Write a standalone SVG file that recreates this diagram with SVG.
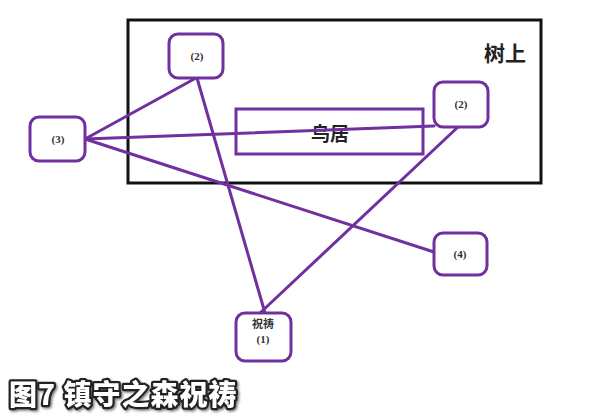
<svg xmlns="http://www.w3.org/2000/svg" width="593" height="417" viewBox="0 0 593 417">
<style>
.node{fill:#fff;stroke:#7030a0;stroke-width:3}
.lbl{font-family:"Liberation Serif","Noto Sans CJK SC",serif;font-weight:bold;font-size:11px;fill:#333;text-anchor:middle;dominant-baseline:central}
.con line{stroke:#7030a0;stroke-width:3;stroke-linecap:round}
.cjk{font-family:"Noto Sans CJK SC",sans-serif;text-anchor:middle;dominant-baseline:central;fill:#222}
</style>
<defs>
<filter id="sh" x="-5%" y="-20%" width="110%" height="150%">
<feDropShadow dx="1.5" dy="1.5" stdDeviation="1" flood-color="#000" flood-opacity="0.5"/>
</filter>
</defs>
<rect width="593" height="417" fill="#fff"/>
<g id="tree">
<rect x="128" y="20" width="413" height="163" fill="none" stroke="#111" stroke-width="3"/>
<text class="cjk" x="505" y="52" font-size="21" font-weight="bold">树上</text>
</g>
<g id="torii">
<rect x="236" y="109" width="187" height="45" fill="none" stroke="#7030a0" stroke-width="3"/>
<text class="cjk" x="330" y="132" font-size="19" font-weight="bold">鸟居</text>
</g>
<g class="con" id="connectors">
<line x1="85" y1="139" x2="196" y2="78"/>
<line x1="85" y1="139" x2="434" y2="126"/>
<line x1="85" y1="139" x2="434" y2="252"/>
<line x1="197" y1="78" x2="265" y2="313"/>
<line x1="458" y1="127" x2="260" y2="313"/>
</g>
<g id="n2a">
<rect class="node" x="169" y="34" width="54" height="44" rx="9"/>
<text class="lbl" x="197" y="56">(2)</text>
</g>
<g id="n2b">
<rect class="node" x="434" y="82" width="54" height="45" rx="9"/>
<text class="lbl" x="461" y="104">(2)</text>
</g>
<g id="n3">
<rect class="node" x="30" y="117" width="55" height="44" rx="9"/>
<text class="lbl" x="58" y="139">(3)</text>
</g>
<g id="n4">
<rect class="node" x="434" y="233" width="53" height="42" rx="9"/>
<text class="lbl" x="460" y="254">(4)</text>
</g>
<g id="n1">
<rect class="node" x="236" y="313" width="55" height="48" rx="9"/>
<text class="lbl" x="263" y="324">祝祷</text>
<text class="lbl" x="263" y="339">(1)</text>
</g>
<g id="caption" filter="url(#sh)">
<text x="9" y="405" font-family="Noto Sans CJK SC,sans-serif" font-weight="900" font-size="28" letter-spacing="1" fill="#fff" stroke="#222" stroke-width="4.5" paint-order="stroke" stroke-linejoin="round">图7 镇守之森祝祷</text>
</g>
</svg>
